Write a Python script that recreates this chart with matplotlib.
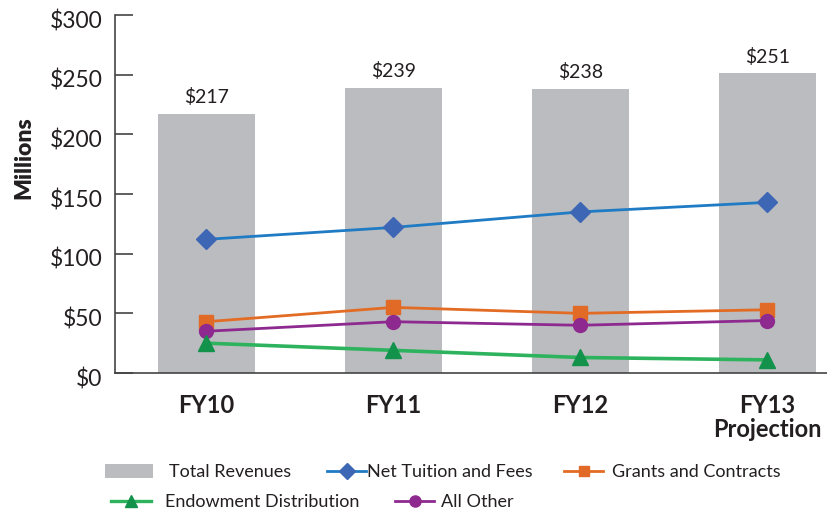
import matplotlib
matplotlib.use("Agg")
import matplotlib.pyplot as plt
import matplotlib.transforms as mtransforms
from matplotlib.patches import Patch
from matplotlib.lines import Line2D
import numpy as np

plt.rcParams['font.family'] = ['Lato', 'DejaVu Sans']

categories = ["FY10", "FY11", "FY12", "FY13\nProjection"]
total_revenues = [217, 239, 238, 251]
total_labels = ["$217", "$239", "$238", "$251"]
net_tuition = [112, 122, 135, 143]
grants = [43, 55, 50, 53]
endowment = [25, 19, 13, 11]
all_other = [35, 43, 40, 44]
y_ticks = [0, 50, 100, 150, 200, 250, 300]
y_ticklabels = ["$0", "$50", "$100", "$150", "$200", "$250", "$300"]

TXT = "#231f20"
C_BAR = "#bbbcc0"
C_TUI, C_TUI_M = "#1f7bc4", "#3d67b5"
C_GRA, C_GRA_M = "#e36c24", "#e06a26"
C_END, C_END_M = "#2db35d", "#12924a"
C_OTH = "#8e2a8f"

fig = plt.figure(figsize=(8.27, 5.14), dpi=100)
ax = fig.add_axes([0.139, 0.2743, 0.861, 0.6965])

x = np.arange(len(categories))
ax.bar(x, total_revenues, width=0.52, color=C_BAR, zorder=1)
for xi, v, lab in zip(x, total_revenues, total_labels):
    ax.text(xi, v + 14, lab, ha="center", va="center", fontsize=14, color=TXT)

ax.plot(x, net_tuition, color=C_TUI, lw=2.0, marker="D", markersize=10,
        markerfacecolor=C_TUI_M, markeredgecolor=C_TUI_M, zorder=3)
ax.plot(x, grants, color=C_GRA, lw=2.0, marker="s", markersize=10,
        markerfacecolor=C_GRA_M, markeredgecolor=C_GRA_M, zorder=3)
ax.plot(x, all_other, color=C_OTH, lw=2.0, marker="o", markersize=10,
        markerfacecolor=C_OTH, markeredgecolor=C_OTH, zorder=3)
ax.plot(x, endowment, color=C_END, lw=2.6, marker="^", markersize=12,
        markerfacecolor=C_END_M, markeredgecolor=C_END_M, zorder=3)

ax.set_xlim(-0.489, 3.32)
ax.set_ylim(0, 300)
ax.set_yticks(y_ticks)
ax.set_yticklabels(y_ticklabels, fontsize=16.5, color=TXT)
ax.set_xticks(x)
ax.set_xticklabels(categories, fontsize=17, fontweight="bold", color=TXT,
                   linespacing=1.05)
ax.tick_params(axis="y", direction="in", length=13, width=1.2, color="#444444", pad=9)
ax.tick_params(axis="x", length=0, pad=15)
shift = mtransforms.ScaledTranslation(0, -4 / 100, fig.dpi_scale_trans)
for lbl in ax.get_yticklabels():
    lbl.set_transform(lbl.get_transform() + shift)
for s in ["top", "right"]:
    ax.spines[s].set_visible(False)
for s in ["left", "bottom"]:
    ax.spines[s].set_color("#444444")
    ax.spines[s].set_linewidth(1.2)
ax.set_ylabel("Millions", fontsize=16.5, fontweight="heavy", color=TXT)
ax.yaxis.set_label_coords(-0.113, 0.603)

FS = 13
h_tot = Patch(facecolor=C_BAR)
h1 = Line2D([], [], color=C_TUI, lw=2.0, marker="D", markersize=8,
            markerfacecolor=C_TUI_M, markeredgecolor=C_TUI_M)
h2 = Line2D([], [], color=C_GRA, lw=2.0, marker="s", markersize=7.5,
            markerfacecolor=C_GRA_M, markeredgecolor=C_GRA_M)
h3 = Line2D([], [], color=C_END, lw=2.4, marker="^", markersize=9,
            markerfacecolor=C_END_M, markeredgecolor=C_END_M)
h4 = Line2D([], [], color=C_OTH, lw=2.0, marker="o", markersize=8,
            markerfacecolor=C_OTH, markeredgecolor=C_OTH)

W, H = 827.0, 514.0
items = [
    (h_tot, "Total Revenues", 105, 472, 2.66, 0.89),
    (h1, "Net Tuition and Fees", 327, 472, 2.16, 0.05),
    (h2, "Grants and Contracts", 564, 472, 2.16, 0.5),
    (h3, "Endowment Distribution", 111, 502, 2.2, 0.78),
    (h4, "All Other", 395, 502, 2.16, 0.39),
]
for h, lab, px, py, hl, htp in items:
    leg = fig.legend([h], [lab], loc="center left",
                     bbox_to_anchor=(px / W, 1 - py / H),
                     frameon=False, fontsize=FS, handlelength=hl,
                     handletextpad=htp, handleheight=0.83,
                     borderpad=0, borderaxespad=0)
    for t in leg.get_texts():
        t.set_color(TXT)

fig.savefig("out.png", dpi=100)
